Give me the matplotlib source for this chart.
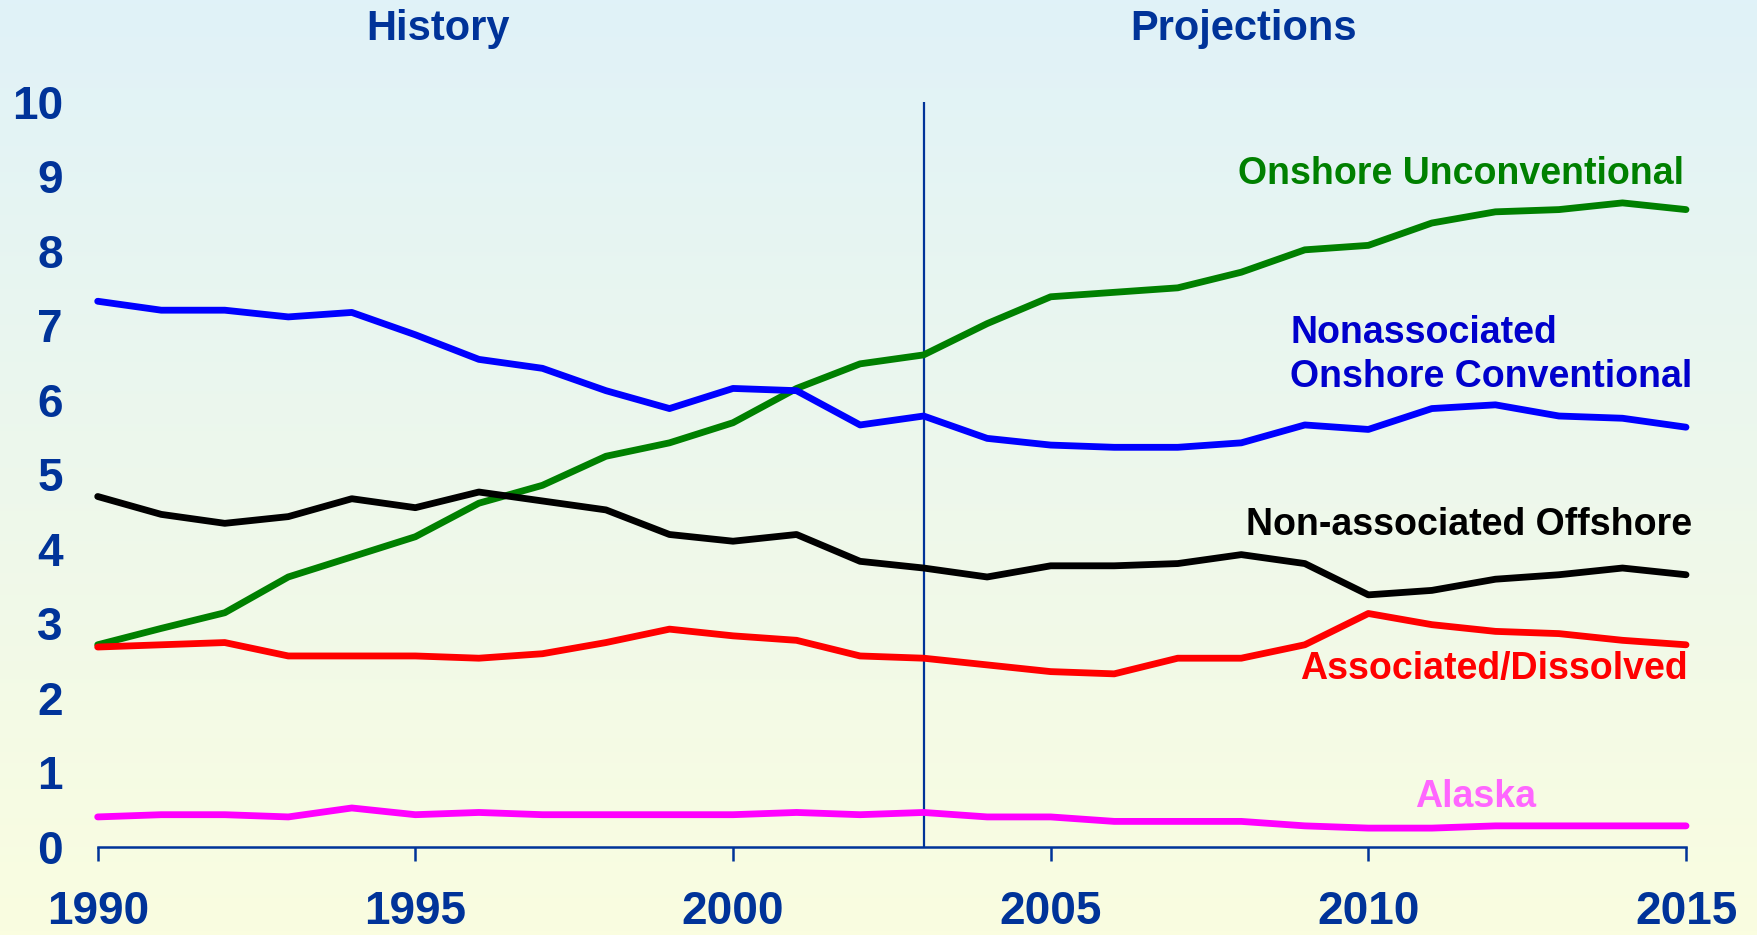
import matplotlib
matplotlib.use("Agg")
import matplotlib.pyplot as plt
import numpy as np
from matplotlib.colors import LinearSegmentedColormap

plt.rcParams["font.family"] = ["Liberation Sans", "DejaVu Sans"]
plt.rcParams["font.weight"] = "bold"

years = list(range(1990, 2016))

onshore_unconv = [2.71, 2.93, 3.14, 3.62, 3.89, 4.16, 4.61, 4.85, 5.24, 5.42,
                  5.69, 6.15, 6.48, 6.60, 7.02, 7.38, 7.44, 7.50, 7.71, 8.01,
                  8.07, 8.37, 8.52, 8.55, 8.64, 8.55]
nonassoc_onshore = [7.32, 7.20, 7.20, 7.11, 7.17, 6.87, 6.54, 6.42, 6.12, 5.88,
                    6.15, 6.12, 5.66, 5.78, 5.48, 5.39, 5.36, 5.36, 5.42, 5.66,
                    5.60, 5.88, 5.93, 5.78, 5.75, 5.63]
nonassoc_offshore = [4.70, 4.46, 4.34, 4.43, 4.67, 4.55, 4.76, 4.64, 4.52, 4.19,
                     4.10, 4.19, 3.83, 3.74, 3.62, 3.77, 3.77, 3.80, 3.92, 3.80,
                     3.38, 3.44, 3.59, 3.65, 3.74, 3.65]
assoc_dissolved = [2.68, 2.71, 2.74, 2.56, 2.56, 2.56, 2.53, 2.59, 2.74, 2.92,
                   2.83, 2.77, 2.56, 2.53, 2.44, 2.35, 2.32, 2.53, 2.53, 2.71,
                   3.13, 2.98, 2.89, 2.86, 2.77, 2.71]
alaska = [0.40, 0.43, 0.43, 0.40, 0.52, 0.43, 0.46, 0.43, 0.43, 0.43,
          0.43, 0.46, 0.43, 0.46, 0.40, 0.40, 0.34, 0.34, 0.34, 0.28,
          0.25, 0.25, 0.28, 0.28, 0.28, 0.28]

x_ticks = [1990, 1995, 2000, 2005, 2010, 2015]
y_ticks = list(range(0, 11))
split_year = 2003

NAVY = "#003399"

fig = plt.figure(figsize=(17.57, 9.35), dpi=100)

# gradient background: light blue on top, pale yellow at bottom
bg = fig.add_axes([0, 0, 1, 1], zorder=-1)
cmap = LinearSegmentedColormap.from_list("bg", ["#FAFDE0", "#E0F2F8"])
bg.imshow(np.linspace(0, 1, 256).reshape(-1, 1), cmap=cmap, aspect="auto",
          origin="lower", extent=[0, 1, 0, 1])
bg.axis("off")

ax = fig.add_axes([0.0556, 0.0944, 0.904, 0.797])
ax.patch.set_alpha(0)

series = [
    (onshore_unconv, "#008000"),
    (nonassoc_onshore, "#0000FF"),
    (nonassoc_offshore, "#000000"),
    (assoc_dissolved, "#FF0000"),
    (alaska, "#FF00FF"),
]
for vals, col in series:
    ax.plot(years, vals, color=col, lw=4.9, solid_capstyle="round",
            solid_joinstyle="round", clip_on=False, zorder=3)

ax.plot([split_year, split_year], [0, 10], color=NAVY, lw=1.6, zorder=2)

ax.set_xlim(1990, 2015)
ax.set_ylim(0, 10)
ax.set_xticks(x_ticks)
ax.set_yticks(y_ticks)
for s in ("top", "right", "left"):
    ax.spines[s].set_visible(False)
ax.spines["bottom"].set_color(NAVY)
ax.spines["bottom"].set_linewidth(1.8)
ax.tick_params(axis="x", direction="out", length=10, width=1.8, color=NAVY,
               labelsize=33, labelcolor=NAVY, pad=21)
ax.tick_params(axis="y", length=0, labelsize=33, labelcolor=NAVY, pad=25)

lab = dict(fontsize=27, fontweight="bold", clip_on=False)
ax.text(2014.97, 9.03, "Onshore Unconventional", color="#008000",
        ha="right", va="center", **lab)
ax.text(2008.77, 6.6, "Nonassociated\nOnshore Conventional", color="#0000CC",
        ha="left", va="center", linespacing=1.3, **lab)
ax.text(2015.1, 4.32, "Non-associated Offshore", color="#000000",
        ha="right", va="center", **lab)
ax.text(2015.02, 2.38, "Associated/Dissolved", color="#FF0000",
        ha="right", va="center", **lab)
ax.text(2011.69, 0.67, "Alaska", color="#FF66FF", ha="center", va="center", **lab)

ax.text(1995.36, 10.98, "History", color=NAVY, ha="center", va="center",
        fontsize=30, fontweight="bold", clip_on=False)
ax.text(2008.04, 10.98, "Projections", color=NAVY, ha="center", va="center",
        fontsize=30, fontweight="bold", clip_on=False)

fig.savefig("out.png", dpi=100)
